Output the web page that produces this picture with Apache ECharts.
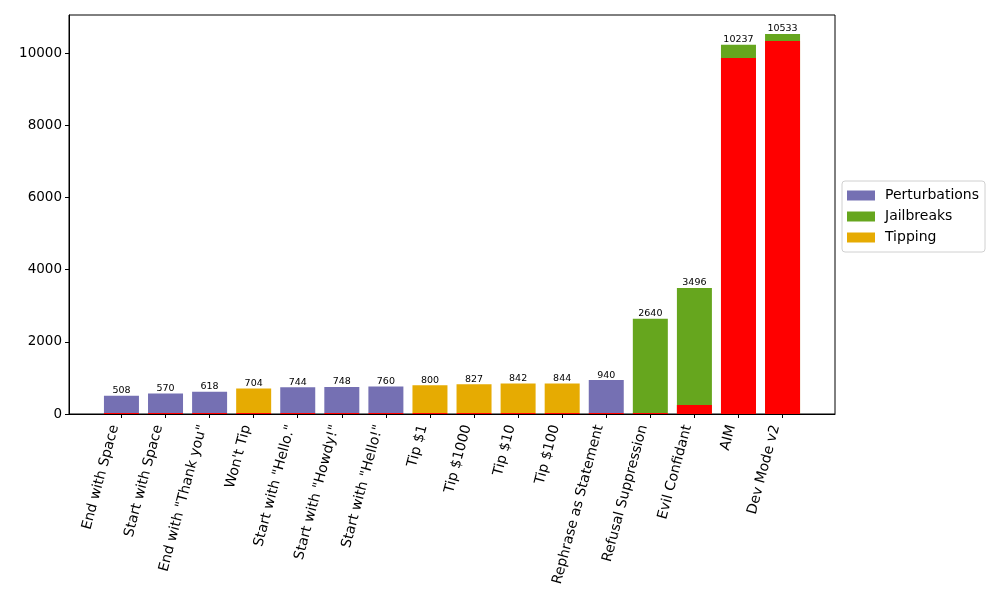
<!DOCTYPE html>
<html><head><meta charset="utf-8">
<script src="https://cdn.jsdelivr.net/npm/echarts@6/dist/echarts.min.js"></script>
<style>html,body{margin:0;padding:0;background:#fff}#c{width:1000px;height:600px}</style>
</head><body><div id="c"></div>
<script>
const categories = ['End with Space','Start with Space','End with "Thank you"',"Won't Tip",'Start with "Hello."','Start with "Howdy!"','Start with "Hello!"','Tip $1','Tip $1000','Tip $10','Tip $100','Rephrase as Statement','Refusal Suppression','Evil Confidant','AIM','Dev Mode v2'];
const groups = ['Perturbations','Perturbations','Perturbations','Tipping','Perturbations','Perturbations','Perturbations','Tipping','Tipping','Tipping','Tipping','Perturbations','Jailbreaks','Jailbreaks','Jailbreaks','Jailbreaks'];
const totals = [508,570,618,704,744,748,760,800,827,842,844,940,2640,3496,10237,10533];
const redValues = [25,25,25,25,25,25,25,25,25,25,25,25,30,250,9870,10340];
const yTicks = [0,2000,4000,6000,8000,10000];
const groupNames = ['Perturbations','Jailbreaks','Tipping'];
const groupColors = {Perturbations:'#7570b3', Jailbreaks:'#66a61e', Tipping:'#e6ab02'};

const chart = echarts.init(document.getElementById('c'));
const idx = categories.map((_, i) => i);
const font = 'DejaVu Sans';
const series = [];
groupNames.forEach(g => {
  series.push({
    name: g, type: 'bar', barWidth: 35, barGap: '-100%',
    itemStyle: {color: groupColors[g]},
    data: idx.filter(i => groups[i] === g).map(i => [i, totals[i]]),
    label: {
      show: true, position: 'top', distance: 0,
      fontFamily: font, fontSize: 9.5, color: '#000',
      formatter: p => String(p.data[1])
    }
  });
});
series.push({
  name: 'red', type: 'bar', barWidth: 35, barGap: '-100%',
  itemStyle: {color: '#ff0000'},
  data: idx.map(i => [i, redValues[i]])
});
chart.setOption({
  animation: false,
  grid: {left: 69, right: 165, top: 15, bottom: 186, show: true, borderColor: '#000', borderWidth: 1, backgroundColor: '#fff'},
  legend: {
    data: groupNames, orient: 'vertical', left: 842, top: 181,
    itemWidth: 28, itemHeight: 10, itemGap: 6, icon: 'rect',
    padding: [7, 6, 7, 5], borderColor: '#d0d0d0', borderWidth: 1, borderRadius: 3,
    backgroundColor: '#fff',
    textStyle: {fontFamily: font, fontSize: 14, color: '#000', lineHeight: 15, padding: [0, 0, 0, 5]}
  },
  xAxis: {
    type: 'value', min: -1.19, max: 16.19,
    splitLine: {show: false},
    axisLine: {onZero: false, lineStyle: {color: '#000'}},
    axisTick: {length: 4, lineStyle: {color: '#000'}, customValues: idx},
    axisLabel: {customValues: idx, rotate: 75, margin: 13, verticalAlign: 'bottom', fontFamily: font, fontSize: 14, color: '#000',
      formatter: v => categories[v]}
  },
  yAxis: {
    type: 'value', min: 0, max: 11060,
    splitLine: {show: false},
    axisLine: {show: true, onZero: false, lineStyle: {color: '#000'}},
    axisTick: {show: true, length: 4, lineStyle: {color: '#000'}, customValues: yTicks},
    axisLabel: {customValues: yTicks, margin: 7, fontFamily: font, fontSize: 13.5, color: '#000',
      formatter: v => String(v)}
  },
  series: series
});
</script></body></html>
